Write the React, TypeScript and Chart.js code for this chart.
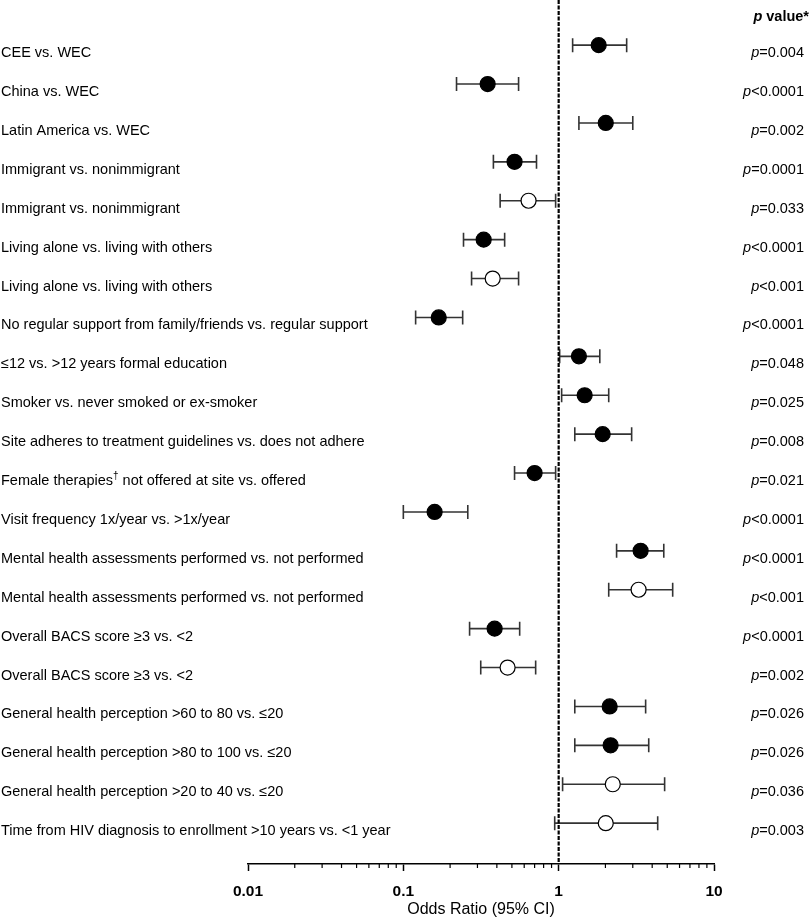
import React, { useEffect, useRef } from 'react';
import { Chart, registerables } from 'chart.js';

Chart.register(...registerables);

const FONT = '"Liberation Sans", Arial, Helvetica, sans-serif';

const categories = [
  'CEE vs. WEC',
  'China vs. WEC',
  'Latin America vs. WEC',
  'Immigrant vs. nonimmigrant',
  'Immigrant vs. nonimmigrant',
  'Living alone vs. living with others',
  'Living alone vs. living with others',
  'No regular support from family/friends vs. regular support',
  '\u226412 vs. >12 years formal education',
  'Smoker vs. never smoked or ex-smoker',
  'Site adheres to treatment guidelines vs. does not adhere',
  'Female therapies\u2020 not offered at site vs. offered',
  'Visit frequency 1x/year vs. >1x/year',
  'Mental health assessments performed vs. not performed',
  'Mental health assessments performed vs. not performed',
  'Overall BACS score \u22653 vs. <2',
  'Overall BACS score \u22653 vs. <2',
  'General health perception >60 to 80 vs. \u226420',
  'General health perception >80 to 100 vs. \u226420',
  'General health perception >20 to 40 vs. \u226420',
  'Time from HIV diagnosis to enrollment >10 years vs. <1 year',
];

const oddsRatios = [1.81, 0.349, 2.01, 0.52, 0.64, 0.329, 0.376, 0.169, 1.35, 1.47, 1.92, 0.70, 0.159, 3.37, 3.27, 0.387, 0.469, 2.13, 2.16, 2.23, 2.01];
const ciLower = [1.23, 0.22, 1.35, 0.38, 0.42, 0.244, 0.275, 0.12, 1.015, 1.045, 1.27, 0.52, 0.10, 2.36, 2.10, 0.267, 0.315, 1.27, 1.27, 1.06, 0.943];
const ciUpper = [2.74, 0.552, 3.0, 0.72, 0.956, 0.449, 0.552, 0.241, 1.84, 2.10, 2.95, 0.956, 0.26, 4.75, 5.42, 0.561, 0.711, 3.63, 3.80, 4.81, 4.34];
const filled = [true, true, true, true, false, true, false, true, true, true, true, true, true, true, false, true, false, true, true, false, false];
const pValues = ['=0.004', '<0.0001', '=0.002', '=0.0001', '=0.033', '<0.0001', '<0.001', '<0.0001', '=0.048', '=0.025', '=0.008', '=0.021', '<0.0001', '<0.0001', '<0.001', '<0.0001', '=0.002', '=0.026', '=0.026', '=0.036', '=0.003'];
const xTicks = [0.01, 0.1, 1, 10];
const minorMultipliers = [2, 3, 4, 5, 6, 7, 8, 9];

export default function App() {
  const ref = useRef<HTMLCanvasElement>(null);

  useEffect(() => {
    const canvas = ref.current;
    if (!canvas) return;

    const forestPlugin = {
      id: 'forest',
      beforeDatasetsDraw(chart: any) {
        const { ctx, scales, chartArea } = chart;
        const x = scales.x;
        const y = scales.y;
        ctx.save();
        ctx.strokeStyle = '#333';
        ctx.lineWidth = 1.6;
        categories.forEach((_, i) => {
          const py = y.getPixelForValue(i);
          const x1 = x.getPixelForValue(ciLower[i]);
          const x2 = x.getPixelForValue(ciUpper[i]);
          ctx.beginPath();
          ctx.moveTo(x1, py);
          ctx.lineTo(x2, py);
          ctx.moveTo(x1, py - 7);
          ctx.lineTo(x1, py + 7);
          ctx.moveTo(x2, py - 7);
          ctx.lineTo(x2, py + 7);
          ctx.stroke();
        });
        const rx = x.getPixelForValue(1);
        ctx.strokeStyle = '#000';
        ctx.lineWidth = 2.2;
        ctx.setLineDash([4, 1.5]);
        ctx.beginPath();
        ctx.moveTo(rx, 0);
        ctx.lineTo(rx, chartArea.bottom);
        ctx.stroke();
        ctx.restore();
      },
      afterDraw(chart: any) {
        const { ctx, scales, chartArea } = chart;
        const x = scales.x;
        const y = scales.y;
        ctx.save();
        ctx.strokeStyle = '#000';
        ctx.lineWidth = 1.2;
        for (let d = 0; d < xTicks.length - 1; d++) {
          minorMultipliers.forEach((m) => {
            const px = x.getPixelForValue(xTicks[d] * m);
            ctx.beginPath();
            ctx.moveTo(px, chartArea.bottom);
            ctx.lineTo(px, chartArea.bottom + 4);
            ctx.stroke();
          });
        }
        ctx.fillStyle = '#000';
        ctx.textBaseline = 'middle';
        const labelFont = `14.5px ${FONT}`;
        categories.forEach((label, i) => {
          const py = y.getPixelForValue(i) + 8;
          ctx.textAlign = 'left';
          ctx.font = labelFont;
          if (label.includes('\u2020')) {
            const [a, b] = label.split('\u2020');
            ctx.fillText(a, 1, py);
            let w = ctx.measureText(a).width;
            ctx.font = `10px ${FONT}`;
            ctx.fillText('\u2020', 1 + w, py - 5);
            w += ctx.measureText('\u2020').width;
            ctx.font = labelFont;
            ctx.fillText(b, 1 + w, py);
          } else {
            ctx.fillText(label, 1, py);
          }
          const right = 804;
          ctx.textAlign = 'right';
          ctx.font = labelFont;
          const rest = pValues[i];
          ctx.fillText(rest, right, py);
          const rw = ctx.measureText(rest).width;
          ctx.font = `italic 14.5px ${FONT}`;
          ctx.fillText('p', right - rw, py);
        });
        ctx.textAlign = 'right';
        ctx.font = `bold 14.5px ${FONT}`;
        const hv = ' value*';
        ctx.fillText(hv, 809, 17);
        const hw = ctx.measureText(hv).width;
        ctx.font = `bold italic 14.5px ${FONT}`;
        ctx.fillText('p', 809 - hw, 17);
        ctx.restore();
      },
    };

    const chart = new Chart(canvas, {
      type: 'scatter',
      data: {
        datasets: [
          {
            data: categories.map((_, i) => ({ x: oddsRatios[i], y: i })),
            pointRadius: 7.5,
            pointHoverRadius: 7.5,
            pointBackgroundColor: filled.map((f) => (f ? '#000' : '#fff')),
            pointBorderColor: '#000',
            pointBorderWidth: 1.2,
            showLine: false,
          },
        ],
      },
      options: {
        responsive: false,
        animation: false,
        layout: { autoPadding: false, padding: { left: 248, right: 98, top: 0, bottom: 0 } },
        plugins: {
          legend: { display: false },
          tooltip: { enabled: false },
        },
        scales: {
          x: {
            type: 'logarithmic',
            position: 'bottom',
            min: 0.01,
            max: 10,
            afterBuildTicks: (scale: any) => {
              scale.ticks = xTicks.map((v) => ({ value: v, major: true }));
            },
            afterFit: (scale: any) => {
              scale.height = 56;
            },
            border: { display: true, color: '#000', width: 1.5 },
            grid: {
              drawOnChartArea: false,
              drawTicks: true,
              tickLength: 7,
              tickColor: '#000',
              tickWidth: 1.5,
            },
            ticks: {
              autoSkip: false,
              maxRotation: 0,
              padding: 11,
              color: '#000',
              font: { family: FONT, size: 15.5, weight: 'bold' },
              callback: (v: any) => String(v),
            },
            title: {
              display: true,
              text: 'Odds Ratio (95% CI)',
              color: '#000',
              font: { family: FONT, size: 16 },
              padding: { top: 0, bottom: 1 },
            },
          },
          y: {
            type: 'linear',
            display: false,
            reverse: true,
            min: -1.16,
            max: 21.05,
          },
        },
      },
      plugins: [forestPlugin],
    } as any);

    return () => chart.destroy();
  }, []);

  return (
    <div style={{ position: 'absolute', left: 0, top: 0, width: 812, height: 920, background: '#fff' }}>
      <canvas ref={ref} width={812} height={920} style={{ display: 'block' }} />
    </div>
  );
}
